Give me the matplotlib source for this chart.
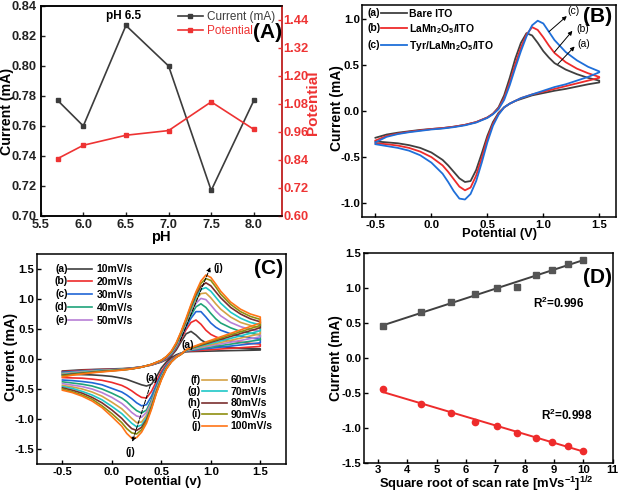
import numpy as np
import matplotlib.pyplot as plt

plt.rcParams['font.family'] = 'Liberation Sans'
plt.rcParams['font.weight'] = 'bold'
plt.rcParams['axes.labelweight'] = 'bold'
plt.rcParams['axes.unicode_minus'] = False
plt.rcParams['mathtext.fontset'] = 'custom'
plt.rcParams['mathtext.rm'] = 'Liberation Sans:bold'
plt.rcParams['mathtext.bf'] = 'Liberation Sans:bold'
plt.rcParams['mathtext.it'] = 'Liberation Sans:bold:italic'
plt.rcParams['axes.linewidth'] = 1.1
plt.rcParams['xtick.direction'] = 'in'
plt.rcParams['ytick.direction'] = 'in'
plt.rcParams['xtick.major.width'] = 1.0
plt.rcParams['ytick.major.width'] = 1.0
plt.rcParams['xtick.major.size'] = 3
plt.rcParams['ytick.major.size'] = 3
plt.rcParams['xtick.major.pad'] = 2
plt.rcParams['ytick.major.pad'] = 1.5


# (A) effect of pH
#==================
ph = [5.7, 6.0, 6.5, 7.0, 7.5, 8.0]
ph_current = [0.777, 0.760, 0.827, 0.800, 0.717, 0.777]
ph_potential = [0.846, 0.903, 0.946, 0.966, 1.089, 0.971]


# (B) CV of the electrodes
#==========================
fwd_v = [-0.5, -0.4, -0.3, -0.2, -0.1, 0.0, 0.1, 0.2, 0.3, 0.4, 0.5, 0.55, 0.6, 0.65,
         0.7, 0.75, 0.8, 0.85, 0.9, 0.95, 1.0, 1.05, 1.1, 1.2, 1.3, 1.4, 1.5]
rev_v = [1.5, 1.4, 1.3, 1.2, 1.1, 1.0, 0.9, 0.8, 0.75, 0.7, 0.65, 0.6, 0.55, 0.5,
         0.45, 0.4, 0.35, 0.3, 0.25, 0.2, 0.15, 0.1, 0.0, -0.1, -0.2, -0.3, -0.4, -0.5]

bare_fwd = [-0.29, -0.255, -0.235, -0.22, -0.205, -0.195, -0.185, -0.17, -0.15, -0.12, -0.07, -0.03, 0.04, 0.17,
            0.36, 0.57, 0.74, 0.845, 0.82, 0.74, 0.65, 0.58, 0.52, 0.45, 0.40, 0.36, 0.33]
bare_rev = [0.31, 0.29, 0.265, 0.24, 0.22, 0.195, 0.17, 0.13, 0.11, 0.08, 0.04, -0.02, -0.12, -0.27,
            -0.46, -0.64, -0.76, -0.77, -0.73, -0.66, -0.59, -0.53, -0.45, -0.40, -0.37, -0.35, -0.34, -0.33]
lmo_fwd = [-0.32, -0.27, -0.245, -0.225, -0.21, -0.195, -0.185, -0.17, -0.15, -0.12, -0.07, -0.03, 0.03, 0.14,
           0.31, 0.51, 0.69, 0.83, 0.91, 0.88, 0.80, 0.71, 0.63, 0.53, 0.46, 0.41, 0.37]
lmo_rev = [0.36, 0.33, 0.30, 0.27, 0.24, 0.21, 0.18, 0.14, 0.11, 0.08, 0.04, -0.03, -0.14, -0.30,
           -0.51, -0.70, -0.83, -0.86, -0.82, -0.74, -0.66, -0.59, -0.50, -0.44, -0.40, -0.375, -0.36, -0.35]
tyr_fwd = [-0.34, -0.28, -0.25, -0.23, -0.215, -0.20, -0.19, -0.175, -0.155, -0.125, -0.075, -0.035, 0.02, 0.12,
           0.28, 0.47, 0.65, 0.81, 0.93, 0.98, 0.95, 0.86, 0.77, 0.64, 0.55, 0.48, 0.43]
tyr_rev = [0.42, 0.37, 0.33, 0.29, 0.26, 0.22, 0.18, 0.14, 0.11, 0.08, 0.04, -0.04, -0.16, -0.34,
           -0.56, -0.76, -0.90, -0.96, -0.95, -0.87, -0.77, -0.68, -0.56, -0.48, -0.43, -0.40, -0.38, -0.36]

b_names = ['Bare ITO', 'LaMn$_2$O$_5$/ITO', 'Tyr/LaMn$_2$O$_5$/ITO']
b_tags = ['(a)', '(b)', '(c)']


# (C) scan rate study, 10 ... 100 mV/s
#======================================
scan_labels = ['10mV/s', '20mV/s', '30mV/s', '40mV/s', '50mV/s',
               '60mV/s', '70mV/s', '80mV/s', '90mV/s', '100mV/s']
scan_tags = ['(a)', '(b)', '(c)', '(d)', '(e)', '(f)', '(g)', '(h)', '(i)', '(j)']

fwd10 = [-0.20, -0.19, -0.18, -0.175, -0.17, -0.165, -0.16, -0.15, -0.13, -0.10, -0.05,
         -0.01, 0.05, 0.15, 0.29, 0.42, 0.46, 0.40, 0.32, 0.27, 0.24, 0.22, 0.21, 0.19, 0.18, 0.175, 0.17]
fwd20 = [-0.21, -0.20, -0.19, -0.18, -0.175, -0.17, -0.165, -0.155, -0.13, -0.10, -0.045,
         0.0, 0.07, 0.18, 0.33, 0.49, 0.61, 0.65, 0.58, 0.48, 0.41, 0.37, 0.34, 0.30, 0.28, 0.26, 0.25]
fwd30 = [-0.22, -0.21, -0.20, -0.19, -0.18, -0.175, -0.17, -0.155, -0.13, -0.095, -0.04,
         0.01, 0.08, 0.20, 0.36, 0.53, 0.68, 0.79, 0.79, 0.70, 0.60, 0.53, 0.48, 0.42, 0.38, 0.35, 0.33]
fwd40 = [-0.23, -0.22, -0.205, -0.195, -0.185, -0.18, -0.17, -0.16, -0.135, -0.095, -0.035,
         0.02, 0.09, 0.21, 0.38, 0.56, 0.73, 0.87, 0.92, 0.86, 0.76, 0.67, 0.60, 0.52, 0.46, 0.43, 0.40]
fwd50 = [-0.24, -0.225, -0.21, -0.20, -0.19, -0.185, -0.175, -0.16, -0.135, -0.095, -0.03,
         0.02, 0.10, 0.22, 0.40, 0.59, 0.78, 0.93, 1.01, 0.99, 0.90, 0.80, 0.72, 0.61, 0.54, 0.49, 0.46]
fwd60 = [-0.25, -0.235, -0.22, -0.205, -0.195, -0.185, -0.175, -0.16, -0.135, -0.09, -0.03,
         0.03, 0.11, 0.23, 0.41, 0.61, 0.81, 0.99, 1.09, 1.10, 1.02, 0.92, 0.83, 0.70, 0.61, 0.56, 0.52]
fwd70 = [-0.26, -0.24, -0.225, -0.21, -0.20, -0.19, -0.18, -0.165, -0.135, -0.09, -0.025,
         0.03, 0.11, 0.24, 0.42, 0.63, 0.84, 1.03, 1.16, 1.19, 1.13, 1.03, 0.93, 0.78, 0.68, 0.61, 0.57]
fwd80 = [-0.27, -0.25, -0.235, -0.22, -0.205, -0.195, -0.18, -0.165, -0.135, -0.09, -0.025,
         0.03, 0.12, 0.25, 0.44, 0.65, 0.87, 1.07, 1.21, 1.27, 1.22, 1.12, 1.02, 0.86, 0.75, 0.67, 0.62]
fwd90 = [-0.28, -0.26, -0.24, -0.225, -0.21, -0.195, -0.185, -0.165, -0.135, -0.09, -0.02,
         0.04, 0.12, 0.26, 0.45, 0.66, 0.89, 1.10, 1.26, 1.34, 1.31, 1.20, 1.08, 0.91, 0.79, 0.71, 0.66]
fwd100 = [-0.30, -0.27, -0.25, -0.23, -0.215, -0.20, -0.185, -0.165, -0.135, -0.09, -0.02,
          0.04, 0.13, 0.27, 0.46, 0.68, 0.91, 1.12, 1.30, 1.40, 1.36, 1.25, 1.13, 0.95, 0.83, 0.75, 0.70]

rev10 = [0.15, 0.146, 0.143, 0.14, 0.136, 0.132, 0.128, 0.124, 0.12, 0.10, 0.07, 0.02, -0.05, -0.15,
         -0.30, -0.42, -0.45, -0.43, -0.40, -0.37, -0.34, -0.32, -0.29, -0.275, -0.265, -0.26, -0.255, -0.25]
rev20 = [0.21, 0.199, 0.188, 0.178, 0.167, 0.156, 0.145, 0.134, 0.127, 0.09, 0.05, -0.01, -0.09, -0.21,
         -0.37, -0.54, -0.65, -0.64, -0.59, -0.53, -0.48, -0.44, -0.39, -0.355, -0.335, -0.32, -0.315, -0.31]
rev30 = [0.27, 0.252, 0.234, 0.216, 0.198, 0.18, 0.162, 0.143, 0.132, 0.09, 0.04, -0.02, -0.11, -0.25,
         -0.43, -0.62, -0.76, -0.78, -0.73, -0.66, -0.60, -0.55, -0.49, -0.43, -0.395, -0.375, -0.36, -0.35]
rev40 = [0.32, 0.296, 0.272, 0.248, 0.224, 0.20, 0.176, 0.15, 0.136, 0.09, 0.04, -0.03, -0.13, -0.28,
         -0.47, -0.68, -0.85, -0.90, -0.86, -0.79, -0.71, -0.65, -0.57, -0.50, -0.45, -0.42, -0.40, -0.38]
rev50 = [0.37, 0.34, 0.31, 0.28, 0.25, 0.22, 0.19, 0.158, 0.14, 0.09, 0.04, -0.03, -0.14, -0.30,
         -0.50, -0.72, -0.89, -0.97, -0.95, -0.89, -0.81, -0.74, -0.64, -0.56, -0.50, -0.46, -0.435, -0.41]
rev60 = [0.42, 0.384, 0.348, 0.312, 0.276, 0.24, 0.204, 0.165, 0.144, 0.08, 0.03, -0.04, -0.15, -0.31,
         -0.52, -0.75, -0.94, -1.05, -1.06, -0.99, -0.91, -0.83, -0.72, -0.62, -0.55, -0.50, -0.465, -0.44]
rev70 = [0.47, 0.428, 0.386, 0.344, 0.302, 0.26, 0.218, 0.173, 0.148, 0.08, 0.03, -0.04, -0.15, -0.32,
         -0.54, -0.78, -0.98, -1.10, -1.13, -1.07, -0.99, -0.91, -0.79, -0.68, -0.60, -0.54, -0.49, -0.46]
rev80 = [0.52, 0.472, 0.424, 0.376, 0.328, 0.28, 0.232, 0.18, 0.152, 0.08, 0.03, -0.05, -0.16, -0.33,
         -0.55, -0.80, -1.01, -1.14, -1.19, -1.16, -1.08, -0.99, -0.85, -0.73, -0.64, -0.57, -0.52, -0.48]
rev90 = [0.56, 0.507, 0.454, 0.402, 0.349, 0.296, 0.243, 0.186, 0.155, 0.08, 0.03, -0.05, -0.16, -0.34,
         -0.56, -0.82, -1.04, -1.18, -1.25, -1.23, -1.16, -1.06, -0.91, -0.78, -0.67, -0.60, -0.545, -0.50]
rev100 = [0.60, 0.542, 0.485, 0.427, 0.37, 0.312, 0.254, 0.192, 0.158, 0.08, 0.03, -0.05, -0.17, -0.35,
          -0.57, -0.84, -1.07, -1.22, -1.31, -1.32, -1.24, -1.12, -0.96, -0.81, -0.70, -0.62, -0.56, -0.52]

scan_colors = ['#404040', '#ee2b2b', '#2166d6', '#1fa37a', '#b77fd6',
               '#d4a246', '#1fc7c7', '#7a2f2f', '#8f8f10', '#ff7416']


# (D) peak current vs square root of scan rate
#==============================================
sqrt_rate = [3.16, 4.47, 5.48, 6.32, 7.07, 7.75, 8.37, 8.94, 9.49, 10.0]
ipa = [0.46, 0.66, 0.80, 0.92, 1.01, 1.02, 1.19, 1.27, 1.35, 1.41]
ipc = [-0.45, -0.66, -0.79, -0.91, -0.98, -1.07, -1.14, -1.20, -1.26, -1.33]


fig = plt.figure(figsize=(6.2, 4.94), dpi=100)

axA = fig.add_axes([0.0656, 0.5628, 0.3892, 0.4251])
axB = fig.add_axes([0.5839, 0.5607, 0.4097, 0.4291])
axC = fig.add_axes([0.0592, 0.0607, 0.4021, 0.4251])
axD = fig.add_axes([0.5863, 0.0634, 0.4019, 0.4235])


def tag_legend(leg, tags, fs):
    # put "(a)" etc. to the left of each legend line
    fig.canvas.draw()
    r = fig.canvas.get_renderer()
    inv = fig.transFigure.inverted()
    for line, tag in zip(leg.get_lines(), tags):
        bb = line.get_window_extent(r)
        x, y = inv.transform((bb.x0, (bb.y0 + bb.y1) / 2))
        fig.text(x - 0.001, y, tag, ha='right', va='center', fontsize=fs, fontweight='bold')


# ---- A
red = '#ee3333'
gray = '#3c3c3c'
l1, = axA.plot(ph, ph_current, color=gray, marker='s', markersize=3.5, lw=1.2, label='Current (mA)')
axA2 = axA.twinx()
l2, = axA2.plot(ph, ph_potential, color=red, marker='s', markersize=3.5, lw=1.2, label='Potential')
axA.set_xlim(5.5, 8.33)
axA.set_ylim(0.70, 0.84)
axA2.set_ylim(0.60, 1.50)
axA.set_xticks(np.arange(5.5, 8.01, 0.5))
axA.set_yticks(np.arange(0.70, 0.841, 0.02))
axA2.set_yticks(np.arange(0.60, 1.45, 0.12))
axA.tick_params(labelsize=9.3, colors='#222222')
axA.tick_params(axis='y', pad=3)
axA2.tick_params(labelsize=9.3, colors=red, pad=1)
axA2.spines['right'].set_color(red)
axA.set_xlabel('pH', fontsize=10.5)
axA.set_ylabel('Current (mA)', fontsize=10.2)
axA2.set_ylabel('Potential', fontsize=11, color=red)
axA.xaxis.set_label_coords(0.5, -0.067)
axA.yaxis.set_label_coords(-0.112, 0.5)
axA2.yaxis.set_label_coords(1.10, 0.54)
axA.text(6.47, 0.8335, 'pH 6.5', ha='center', va='center', fontsize=8.5)
legA = axA.legend([l1, l2], ['Current (mA)', 'Potential'], loc='upper left',
                  bbox_to_anchor=(0.569, 0.975), frameon=False, borderpad=0, borderaxespad=0,
                  handlelength=2.1, handletextpad=0.35, labelspacing=0.15,
                  prop={'size': 8.5, 'weight': 'normal'})
legA.get_texts()[0].set_color(gray)
legA.get_texts()[1].set_color(red)
axA2.text(1.0, 0.872, '(A)', transform=axA2.transAxes, ha='right', va='center', fontsize=15)


# ---- B
b_colors = ['#404040', '#ee2b2b', '#1f6fd9']
b_lines = []
for f, rv, c in zip([bare_fwd, lmo_fwd, tyr_fwd], [bare_rev, lmo_rev, tyr_rev], b_colors):
    ln, = axB.plot(fwd_v + rev_v, f + rv, color=c, lw=1.3)
    b_lines.append(ln)
axB.set_xlim(-0.62, 1.65)
axB.set_ylim(-1.15, 1.15)
axB.set_xticks([-0.5, 0.0, 0.5, 1.0, 1.5])
axB.set_yticks([-1.0, -0.5, 0.0, 0.5, 1.0])
axB.tick_params(labelsize=8.2)
axB.set_xlabel('Potential (V)', fontsize=9.3)
axB.set_ylabel('Current (mA)', fontsize=10)
axB.xaxis.set_label_coords(0.543, -0.052)
axB.yaxis.set_label_coords(-0.072, 0.514)
legB = axB.legend(b_lines, b_names, loc='upper left', bbox_to_anchor=(0.074, 0.982),
                  frameon=False, borderpad=0, borderaxespad=0, handlelength=2.5,
                  handletextpad=0.2, labelspacing=0.3, prop={'size': 7.5, 'weight': 'bold'})
arrow = dict(arrowstyle='-|>', color='k', lw=0.7, mutation_scale=6, shrinkA=0, shrinkB=0)
axB.annotate('', xy=(1.28, 0.70), xytext=(1.13, 0.51), arrowprops=arrow)
axB.annotate('', xy=(1.26, 0.87), xytext=(1.10, 0.64), arrowprops=arrow)
axB.annotate('', xy=(1.21, 1.03), xytext=(1.05, 0.86), arrowprops=arrow)
axB.text(1.36, 0.73, '(a)', ha='center', va='center', fontsize=7.5, fontweight='normal')
axB.text(1.35, 0.89, '(b)', ha='center', va='center', fontsize=7.5, fontweight='normal')
axB.text(1.27, 1.08, '(c)', ha='center', va='center', fontsize=7.5, fontweight='normal')
axB.text(0.984, 0.948, '(B)', transform=axB.transAxes, ha='right', va='center', fontsize=15)


# ---- C
c_fwd = [fwd10, fwd20, fwd30, fwd40, fwd50, fwd60, fwd70, fwd80, fwd90, fwd100]
c_rev = [rev10, rev20, rev30, rev40, rev50, rev60, rev70, rev80, rev90, rev100]
c_lines = []
for f, rv, c in zip(c_fwd, c_rev, scan_colors):
    ln, = axC.plot(fwd_v + rev_v, f + rv, color=c, lw=1.2)
    c_lines.append(ln)
axC.set_xlim(-0.76, 1.76)
axC.set_ylim(-1.75, 1.75)
axC.set_xticks([-0.5, 0.0, 0.5, 1.0, 1.5])
axC.set_yticks([-1.5, -1.0, -0.5, 0.0, 0.5, 1.0, 1.5])
axC.tick_params(labelsize=8.2)
axC.set_xlabel('Potential (v)', fontsize=9.6)
axC.set_ylabel('Current (mA)', fontsize=10.3)
axC.xaxis.set_label_coords(0.509, -0.059)
axC.yaxis.set_label_coords(-0.074, 0.511)
legC1 = axC.legend(c_lines[:5], scan_labels[:5], loc='upper left', bbox_to_anchor=(0.127, 0.951),
                   frameon=False, borderpad=0, borderaxespad=0, handlelength=2.25,
                   handletextpad=0.45, labelspacing=0.27, prop={'size': 7.5, 'weight': 'bold'})
axC.add_artist(legC1)
legC2 = axC.legend(c_lines[5:], scan_labels[5:], loc='upper left', bbox_to_anchor=(0.662, 0.422),
                   frameon=False, borderpad=0, borderaxespad=0, handlelength=2.4,
                   handletextpad=0.35, labelspacing=0.14, prop={'size': 7.5, 'weight': 'bold'})
dash_arrow = dict(arrowstyle='-|>', color='k', lw=0.7, ls=(0, (4, 1.5)), mutation_scale=6,
                  shrinkA=0, shrinkB=0)
axC.annotate('', xy=(0.995, 1.53), xytext=(0.69, 0.30), arrowprops=dash_arrow)
axC.annotate('', xy=(0.206, -1.38), xytext=(0.39, -0.43), arrowprops=dash_arrow)
axC.text(0.77, 0.24, '(a)', ha='center', va='center', fontsize=7.5)
axC.text(1.08, 1.52, '(j)', ha='center', va='center', fontsize=7.5)
axC.text(0.407, -0.32, '(a)', ha='center', va='center', fontsize=7.5)
axC.text(0.19, -1.55, '(j)', ha='center', va='center', fontsize=7.5)
axC.text(0.988, 0.929, '(C)', transform=axC.transAxes, ha='right', va='center', fontsize=15)


# ---- D
xs = np.array(sqrt_rate)
pa = np.polyfit(xs, ipa, 1)
pc = np.polyfit(xs, ipc, 1)
xx = np.array([xs.min(), xs.max()])
axD.plot(xx, np.polyval(pa, xx), color='#404040', lw=1.4)
axD.plot(xs, ipa, 's', color='#555555', markersize=4.5)
axD.plot(xx, np.polyval(pc, xx), color='#ee2b2b', lw=1.4)
axD.plot(xs, ipc, 'o', color='#ee2b2b', markersize=4.5)
axD.set_xlim(2.5, 11)
axD.set_ylim(-1.5, 1.5)
axD.set_xticks(range(3, 12))
axD.set_yticks([-1.5, -1.0, -0.5, 0.0, 0.5, 1.0, 1.5])
axD.tick_params(labelsize=8.2)
axD.set_xlabel('Square root of scan rate [mVs$^{-1}$]$^{1/2}$', fontsize=9.4)
axD.set_ylabel('Current (mA)', fontsize=10)
axD.xaxis.set_label_coords(0.494, -0.058)
axD.yaxis.set_label_coords(-0.082, 0.5)
axD.text(8.27, 0.79, 'R$^2$=0.996', ha='left', va='center', fontsize=8.5)
axD.text(8.55, -0.815, 'R$^2$=0.998', ha='left', va='center', fontsize=8.5)
axD.text(0.997, 0.883, '(D)', transform=axD.transAxes, ha='right', va='center', fontsize=15)

tag_legend(legB, b_tags, 7.5)
tag_legend(legC1, scan_tags[:5], 7.5)
tag_legend(legC2, scan_tags[5:], 7.5)

fig.savefig('out.png', dpi=100)
